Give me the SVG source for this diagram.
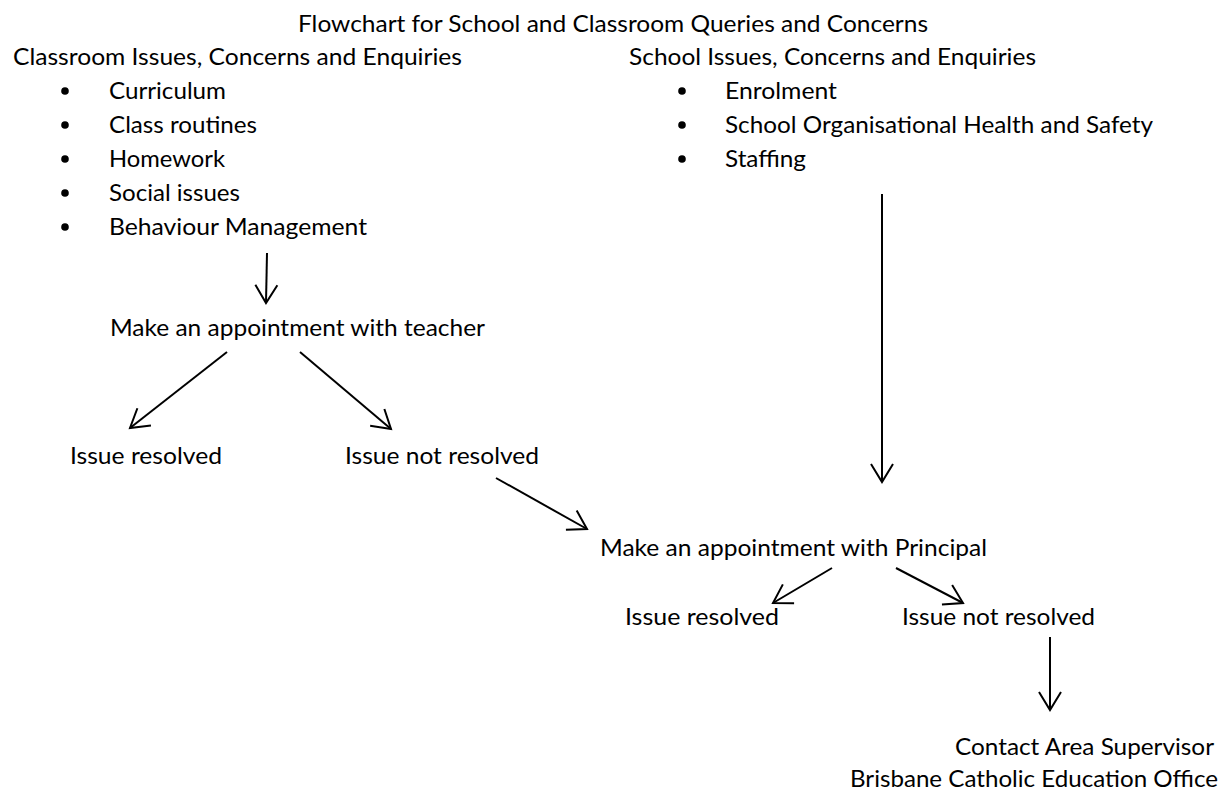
<svg xmlns="http://www.w3.org/2000/svg" width="1225" height="791" viewBox="0 0 1225 791">
<style>
text{font-family:Lato,"Open Sans","Liberation Sans",sans-serif;font-size:23px;fill:#000}
.c{stroke:#000;stroke-width:2;fill:none}
.b{fill:#000}
</style>
<defs>
<marker id="ah" markerUnits="userSpaceOnUse" viewBox="-24 -14 28 28" refX="0" refY="0" markerWidth="28" markerHeight="28" orient="auto">
<path d="M-18,-11 L0,0 L-18,11" fill="none" stroke="#000" stroke-width="2"/>
</marker>
</defs>
<rect width="1225" height="791" fill="#fff"/>
<g id="title"><text x="298" y="32" textLength="630" lengthAdjust="spacingAndGlyphs">Flowchart for School and Classroom Queries and Concerns</text></g>
<g id="classroom">
<text x="13" y="65" textLength="449" lengthAdjust="spacingAndGlyphs">Classroom Issues, Concerns and Enquiries</text>
<circle class="b" cx="65" cy="91" r="3.8"/><text x="109" y="99" textLength="117" lengthAdjust="spacingAndGlyphs">Curriculum</text>
<circle class="b" cx="65" cy="125" r="3.8"/><text x="109" y="133" textLength="148" lengthAdjust="spacingAndGlyphs">Class routines</text>
<circle class="b" cx="65" cy="159" r="3.8"/><text x="109" y="167" textLength="116" lengthAdjust="spacingAndGlyphs">Homework</text>
<circle class="b" cx="65" cy="193" r="3.8"/><text x="109" y="201" textLength="131" lengthAdjust="spacingAndGlyphs">Social issues</text>
<circle class="b" cx="65" cy="227" r="3.8"/><text x="109" y="235" textLength="258" lengthAdjust="spacingAndGlyphs">Behaviour Management</text>
</g>
<g id="school">
<text x="629" y="65" textLength="407" lengthAdjust="spacingAndGlyphs">School Issues, Concerns and Enquiries</text>
<circle class="b" cx="682" cy="91" r="3.8"/><text x="725" y="99" textLength="112" lengthAdjust="spacingAndGlyphs">Enrolment</text>
<circle class="b" cx="682" cy="125" r="3.8"/><text x="725" y="133" textLength="428" lengthAdjust="spacingAndGlyphs">School Organisational Health and Safety</text>
<circle class="b" cx="682" cy="159" r="3.8"/><text x="725" y="167" textLength="81" lengthAdjust="spacingAndGlyphs">Staffing</text>
</g>
<g id="teacher"><text x="110" y="336" textLength="375" lengthAdjust="spacingAndGlyphs">Make an appointment with teacher</text></g>
<g id="resolved1"><text x="70" y="464" textLength="152" lengthAdjust="spacingAndGlyphs">Issue resolved</text></g>
<g id="notresolved1"><text x="345" y="464" textLength="194" lengthAdjust="spacingAndGlyphs">Issue not resolved</text></g>
<g id="principal"><text x="600" y="556" textLength="387" lengthAdjust="spacingAndGlyphs">Make an appointment with Principal</text></g>
<g id="resolved2"><text x="625" y="625" textLength="154" lengthAdjust="spacingAndGlyphs">Issue resolved</text></g>
<g id="notresolved2"><text x="902" y="625" textLength="193" lengthAdjust="spacingAndGlyphs">Issue not resolved</text></g>
<g id="supervisor">
<text x="1214" y="755" text-anchor="end" textLength="259" lengthAdjust="spacingAndGlyphs">Contact Area Supervisor</text>
<text x="1218" y="787" text-anchor="end" textLength="368" lengthAdjust="spacingAndGlyphs">Brisbane Catholic Education Office</text>
</g>
<g id="connectors" class="c">
<line x1="267" y1="253" x2="266" y2="303" marker-end="url(#ah)"/>
<line x1="227" y1="352" x2="130" y2="428" marker-end="url(#ah)"/>
<line x1="300" y1="352" x2="391" y2="429" marker-end="url(#ah)"/>
<line x1="496" y1="478" x2="587" y2="529" marker-end="url(#ah)"/>
<line x1="882" y1="194" x2="882" y2="482" marker-end="url(#ah)"/>
<line x1="832" y1="568" x2="773" y2="603" marker-end="url(#ah)"/>
<line x1="896" y1="568" x2="963" y2="603" marker-end="url(#ah)"/>
<line x1="1050" y1="637" x2="1050" y2="710" marker-end="url(#ah)"/>
</g>
</svg>
